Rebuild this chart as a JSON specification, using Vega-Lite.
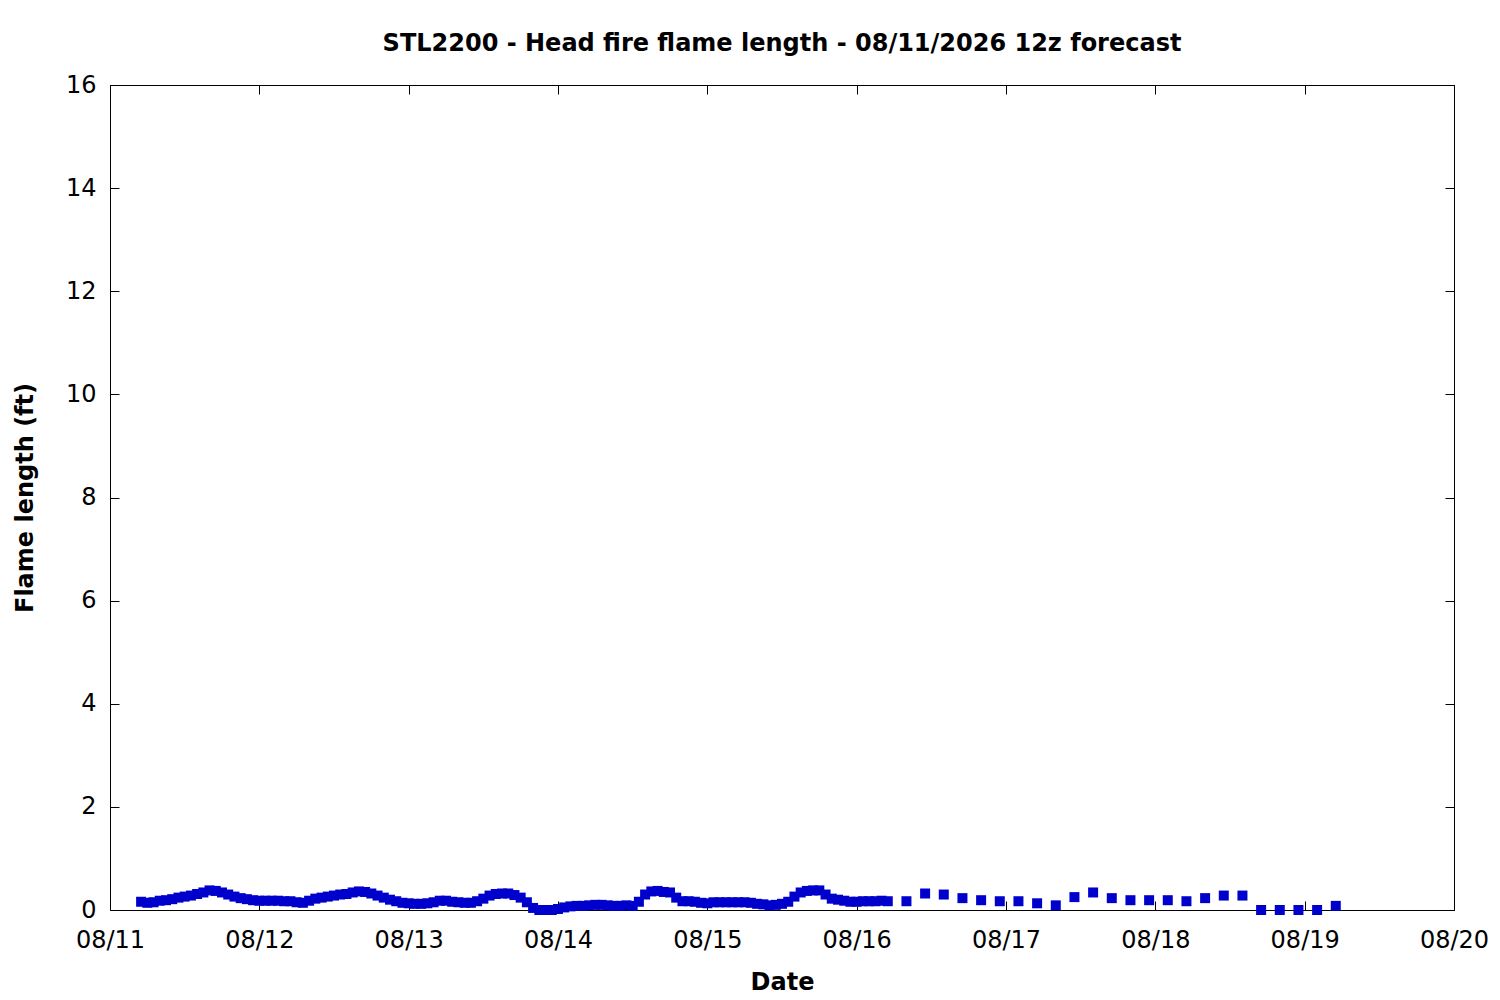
{
  "$schema": "https://vega.github.io/schema/vega-lite/v6.json",
  "width": 1344,
  "height": 825,
  "autosize": {"type": "none"},
  "padding": {"left": 110, "top": 85, "right": 46, "bottom": 90},
  "background": "white",
  "title": {
    "text": "STL2200 - Head fire flame length - 08/11/2026 12z forecast",
    "font": "DejaVu Sans",
    "fontSize": 24,
    "fontWeight": "bold",
    "color": "black",
    "offset": 17
  },
  "config": {
    "view": {"stroke": "black", "strokeWidth": 1},
    "axis": {
      "labelFont": "DejaVu Sans",
      "labelFontSize": 24,
      "labelColor": "black",
      "titleFont": "DejaVu Sans",
      "titleFontSize": 24,
      "titleFontWeight": "bold",
      "titleColor": "black",
      "tickColor": "black",
      "tickSize": -9,
      "domain": false,
      "grid": false
    }
  },
  "data": {
    "values": [
      {"date": "2026-08-11T05:00:00", "flame": 0.16},
      {"date": "2026-08-11T06:00:00", "flame": 0.14},
      {"date": "2026-08-11T07:00:00", "flame": 0.15},
      {"date": "2026-08-11T08:00:00", "flame": 0.18},
      {"date": "2026-08-11T09:00:00", "flame": 0.19},
      {"date": "2026-08-11T10:00:00", "flame": 0.21},
      {"date": "2026-08-11T11:00:00", "flame": 0.24},
      {"date": "2026-08-11T12:00:00", "flame": 0.26},
      {"date": "2026-08-11T13:00:00", "flame": 0.28},
      {"date": "2026-08-11T14:00:00", "flame": 0.31},
      {"date": "2026-08-11T15:00:00", "flame": 0.34},
      {"date": "2026-08-11T16:00:00", "flame": 0.38},
      {"date": "2026-08-11T17:00:00", "flame": 0.37},
      {"date": "2026-08-11T18:00:00", "flame": 0.34},
      {"date": "2026-08-11T19:00:00", "flame": 0.30},
      {"date": "2026-08-11T20:00:00", "flame": 0.26},
      {"date": "2026-08-11T21:00:00", "flame": 0.23},
      {"date": "2026-08-11T22:00:00", "flame": 0.21},
      {"date": "2026-08-11T23:00:00", "flame": 0.19},
      {"date": "2026-08-12T00:00:00", "flame": 0.18},
      {"date": "2026-08-12T01:00:00", "flame": 0.18},
      {"date": "2026-08-12T02:00:00", "flame": 0.18},
      {"date": "2026-08-12T03:00:00", "flame": 0.18},
      {"date": "2026-08-12T04:00:00", "flame": 0.17},
      {"date": "2026-08-12T05:00:00", "flame": 0.17},
      {"date": "2026-08-12T06:00:00", "flame": 0.15},
      {"date": "2026-08-12T07:00:00", "flame": 0.14},
      {"date": "2026-08-12T08:00:00", "flame": 0.18},
      {"date": "2026-08-12T09:00:00", "flame": 0.22},
      {"date": "2026-08-12T10:00:00", "flame": 0.24},
      {"date": "2026-08-12T11:00:00", "flame": 0.26},
      {"date": "2026-08-12T12:00:00", "flame": 0.28},
      {"date": "2026-08-12T13:00:00", "flame": 0.30},
      {"date": "2026-08-12T14:00:00", "flame": 0.31},
      {"date": "2026-08-12T15:00:00", "flame": 0.34},
      {"date": "2026-08-12T16:00:00", "flame": 0.36},
      {"date": "2026-08-12T17:00:00", "flame": 0.35},
      {"date": "2026-08-12T18:00:00", "flame": 0.32},
      {"date": "2026-08-12T19:00:00", "flame": 0.28},
      {"date": "2026-08-12T20:00:00", "flame": 0.24},
      {"date": "2026-08-12T21:00:00", "flame": 0.20},
      {"date": "2026-08-12T22:00:00", "flame": 0.17},
      {"date": "2026-08-12T23:00:00", "flame": 0.14},
      {"date": "2026-08-13T00:00:00", "flame": 0.13},
      {"date": "2026-08-13T01:00:00", "flame": 0.12},
      {"date": "2026-08-13T02:00:00", "flame": 0.12},
      {"date": "2026-08-13T03:00:00", "flame": 0.13},
      {"date": "2026-08-13T04:00:00", "flame": 0.15},
      {"date": "2026-08-13T05:00:00", "flame": 0.18},
      {"date": "2026-08-13T06:00:00", "flame": 0.18},
      {"date": "2026-08-13T07:00:00", "flame": 0.16},
      {"date": "2026-08-13T08:00:00", "flame": 0.15},
      {"date": "2026-08-13T09:00:00", "flame": 0.14},
      {"date": "2026-08-13T10:00:00", "flame": 0.14},
      {"date": "2026-08-13T11:00:00", "flame": 0.17},
      {"date": "2026-08-13T12:00:00", "flame": 0.22},
      {"date": "2026-08-13T13:00:00", "flame": 0.28},
      {"date": "2026-08-13T14:00:00", "flame": 0.31},
      {"date": "2026-08-13T15:00:00", "flame": 0.32},
      {"date": "2026-08-13T16:00:00", "flame": 0.32},
      {"date": "2026-08-13T17:00:00", "flame": 0.29},
      {"date": "2026-08-13T18:00:00", "flame": 0.24},
      {"date": "2026-08-13T19:00:00", "flame": 0.15},
      {"date": "2026-08-13T20:00:00", "flame": 0.04},
      {"date": "2026-08-13T21:00:00", "flame": 0.00},
      {"date": "2026-08-13T22:00:00", "flame": 0.00},
      {"date": "2026-08-13T23:00:00", "flame": 0.00},
      {"date": "2026-08-14T00:00:00", "flame": 0.02},
      {"date": "2026-08-14T01:00:00", "flame": 0.05},
      {"date": "2026-08-14T02:00:00", "flame": 0.07},
      {"date": "2026-08-14T03:00:00", "flame": 0.08},
      {"date": "2026-08-14T04:00:00", "flame": 0.08},
      {"date": "2026-08-14T05:00:00", "flame": 0.09},
      {"date": "2026-08-14T06:00:00", "flame": 0.10},
      {"date": "2026-08-14T07:00:00", "flame": 0.10},
      {"date": "2026-08-14T08:00:00", "flame": 0.09},
      {"date": "2026-08-14T09:00:00", "flame": 0.08},
      {"date": "2026-08-14T10:00:00", "flame": 0.08},
      {"date": "2026-08-14T11:00:00", "flame": 0.09},
      {"date": "2026-08-14T12:00:00", "flame": 0.08},
      {"date": "2026-08-14T13:00:00", "flame": 0.16},
      {"date": "2026-08-14T14:00:00", "flame": 0.30},
      {"date": "2026-08-14T15:00:00", "flame": 0.36},
      {"date": "2026-08-14T16:00:00", "flame": 0.37},
      {"date": "2026-08-14T17:00:00", "flame": 0.35},
      {"date": "2026-08-14T18:00:00", "flame": 0.34},
      {"date": "2026-08-14T19:00:00", "flame": 0.24},
      {"date": "2026-08-14T20:00:00", "flame": 0.17},
      {"date": "2026-08-14T21:00:00", "flame": 0.17},
      {"date": "2026-08-14T22:00:00", "flame": 0.16},
      {"date": "2026-08-14T23:00:00", "flame": 0.14},
      {"date": "2026-08-15T00:00:00", "flame": 0.13},
      {"date": "2026-08-15T01:00:00", "flame": 0.15},
      {"date": "2026-08-15T02:00:00", "flame": 0.15},
      {"date": "2026-08-15T03:00:00", "flame": 0.15},
      {"date": "2026-08-15T04:00:00", "flame": 0.15},
      {"date": "2026-08-15T05:00:00", "flame": 0.15},
      {"date": "2026-08-15T06:00:00", "flame": 0.15},
      {"date": "2026-08-15T07:00:00", "flame": 0.14},
      {"date": "2026-08-15T08:00:00", "flame": 0.12},
      {"date": "2026-08-15T09:00:00", "flame": 0.11},
      {"date": "2026-08-15T10:00:00", "flame": 0.09},
      {"date": "2026-08-15T11:00:00", "flame": 0.10},
      {"date": "2026-08-15T12:00:00", "flame": 0.12},
      {"date": "2026-08-15T13:00:00", "flame": 0.16},
      {"date": "2026-08-15T14:00:00", "flame": 0.26},
      {"date": "2026-08-15T15:00:00", "flame": 0.34},
      {"date": "2026-08-15T16:00:00", "flame": 0.37},
      {"date": "2026-08-15T17:00:00", "flame": 0.38},
      {"date": "2026-08-15T18:00:00", "flame": 0.38},
      {"date": "2026-08-15T19:00:00", "flame": 0.30},
      {"date": "2026-08-15T20:00:00", "flame": 0.22},
      {"date": "2026-08-15T21:00:00", "flame": 0.20},
      {"date": "2026-08-15T22:00:00", "flame": 0.18},
      {"date": "2026-08-15T23:00:00", "flame": 0.16},
      {"date": "2026-08-16T00:00:00", "flame": 0.16},
      {"date": "2026-08-16T01:00:00", "flame": 0.17},
      {"date": "2026-08-16T02:00:00", "flame": 0.17},
      {"date": "2026-08-16T03:00:00", "flame": 0.17},
      {"date": "2026-08-16T04:00:00", "flame": 0.18},
      {"date": "2026-08-16T05:00:00", "flame": 0.17},
      {"date": "2026-08-16T08:00:00", "flame": 0.17},
      {"date": "2026-08-16T11:00:00", "flame": 0.32},
      {"date": "2026-08-16T14:00:00", "flame": 0.30},
      {"date": "2026-08-16T17:00:00", "flame": 0.23},
      {"date": "2026-08-16T20:00:00", "flame": 0.19},
      {"date": "2026-08-16T23:00:00", "flame": 0.17},
      {"date": "2026-08-17T02:00:00", "flame": 0.17},
      {"date": "2026-08-17T05:00:00", "flame": 0.13},
      {"date": "2026-08-17T08:00:00", "flame": 0.09},
      {"date": "2026-08-17T11:00:00", "flame": 0.25},
      {"date": "2026-08-17T14:00:00", "flame": 0.34},
      {"date": "2026-08-17T17:00:00", "flame": 0.23},
      {"date": "2026-08-17T20:00:00", "flame": 0.19},
      {"date": "2026-08-17T23:00:00", "flame": 0.19},
      {"date": "2026-08-18T02:00:00", "flame": 0.19},
      {"date": "2026-08-18T05:00:00", "flame": 0.17},
      {"date": "2026-08-18T08:00:00", "flame": 0.23},
      {"date": "2026-08-18T11:00:00", "flame": 0.28},
      {"date": "2026-08-18T14:00:00", "flame": 0.28},
      {"date": "2026-08-18T17:00:00", "flame": 0.00},
      {"date": "2026-08-18T20:00:00", "flame": 0.00},
      {"date": "2026-08-18T23:00:00", "flame": 0.00},
      {"date": "2026-08-19T02:00:00", "flame": 0.00},
      {"date": "2026-08-19T05:00:00", "flame": 0.08}
    ]
  },
  "resolve": {"axis": {"x": "independent", "y": "independent"}},
  "layer": [
    {
      "mark": {"type": "square", "size": 100, "color": "#0000cc", "opacity": 1, "filled": true},
      "encoding": {
        "x": {
          "field": "date",
          "type": "temporal",
          "title": "Date",
          "scale": {"domain": [{"year": 2026, "month": 8, "date": 11}, {"year": 2026, "month": 8, "date": 20}]},
          "axis": {"orient": "bottom", "format": "%m/%d", "tickCount": {"interval": "day", "step": 1}, "labelPadding": 27, "titlePadding": 18, "labelFlush": false, "labelOverlap": false}
        },
        "y": {
          "field": "flame",
          "type": "quantitative",
          "title": "Flame length (ft)",
          "scale": {"domain": [0, 16], "nice": false, "zero": true},
          "axis": {"orient": "left", "values": [0, 2, 4, 6, 8, 10, 12, 14, 16], "labelPadding": 23, "titlePadding": 28}
        }
      }
    },
    {
      "mark": {"type": "point", "opacity": 0},
      "encoding": {
        "x": {
          "field": "date",
          "type": "temporal",
          "axis": {"orient": "top", "labels": false, "title": null, "tickCount": {"interval": "day", "step": 1}}
        },
        "y": {
          "field": "flame",
          "type": "quantitative",
          "axis": {"orient": "right", "labels": false, "title": null, "values": [0, 2, 4, 6, 8, 10, 12, 14, 16]}
        }
      }
    }
  ]
}
